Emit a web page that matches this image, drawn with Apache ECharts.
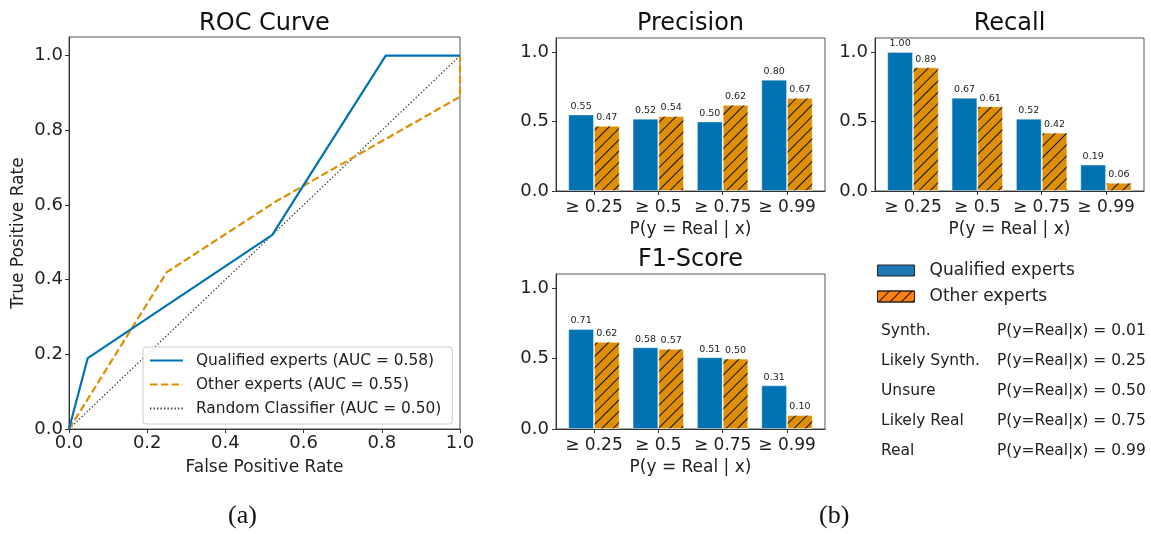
<!DOCTYPE html>
<html>
<head>
<meta charset="utf-8">
<script src="https://cdn.jsdelivr.net/npm/echarts@6/dist/echarts.min.js"></script>
<style>
html,body{margin:0;padding:0;background:#fff;}
#chart{width:1151px;height:534px;}
</style>
</head>
<body>
<div id="chart"></div>
<script>
// ---------- DATA ----------
const qualFpr  = [0, 0.048, 0.52, 0.61, 0.81, 1.0];
const qualTpr  = [0, 0.19, 0.52, 0.67, 1.0, 1.0];
const otherFpr = [0, 0.036, 0.25, 0.53, 1.0, 1.0];
const otherTpr = [0, 0.06, 0.42, 0.61, 0.89, 1.0];
const randFpr  = [0, 1];
const randTpr  = [0, 1];
const rocNames = ['Qualified experts (AUC = 0.58)', 'Other experts (AUC = 0.55)', 'Random Classifier (AUC = 0.50)'];
const rocTicks = [0, 0.2, 0.4, 0.6, 0.8, 1.0];

const categories = ['≥ 0.25', '≥ 0.5', '≥ 0.75', '≥ 0.99'];
const precQual  = [0.55, 0.52, 0.50, 0.80];
const precOther = [0.47, 0.54, 0.62, 0.67];
const recQual   = [1.00, 0.67, 0.52, 0.19];
const recOther  = [0.89, 0.61, 0.42, 0.06];
const f1Qual    = [0.71, 0.58, 0.51, 0.31];
const f1Other   = [0.62, 0.57, 0.50, 0.10];
const barTicks  = [0, 0.5, 1.0];
const groupNames = ['Qualified experts', 'Other experts'];

const tableLabels = ['Synth.', 'Likely Synth.', 'Unsure', 'Likely Real', 'Real'];
const tableProbs  = ['0.01', '0.25', '0.50', '0.75', '0.99'];

// ---------- STYLE ----------
const FONT = 'DejaVu Sans';
const BLUE = '#0173b2', ORANGE = '#de8f05';
const hatch = {symbol: 'rect', symbolSize: 1, dashArrayX: [1, 0], dashArrayY: [1, 7], rotation: -Math.PI / 4, color: '#111'};

const chart = echarts.init(document.getElementById('chart'), null, {renderer: 'canvas'});

const panels = [
  {title: 'Precision', q: precQual, o: precOther, left: 556, top: 38, width: 269, height: 153},
  {title: 'Recall',    q: recQual,  o: recOther,  left: 875, top: 38, width: 269, height: 153},
  {title: 'F1-Score',  q: f1Qual,   o: f1Other,   left: 556, top: 274, width: 269, height: 155}
];
const XMIN = -0.59, XMAX = 3.59;

const grids = [{left: 69, top: 37, width: 391, height: 392, show: true, borderColor: '#555', borderWidth: 1}];
const xAxes = [{
  gridIndex: 0, type: 'value', min: 0, max: 1, interval: 0.2,
  axisLine: {onZero: false, lineStyle: {color: '#333'}},
  axisTick: {length: 4, lineStyle: {color: '#333'}},
  axisLabel: {fontFamily: FONT, fontSize: 18, color: '#222', margin: 5, formatter: v => v.toFixed(1)},
  splitLine: {show: false},
  name: 'False Positive Rate', nameLocation: 'middle', nameGap: 30,
  nameTextStyle: {fontFamily: FONT, fontSize: 17, color: '#222'}
}];
const yAxes = [{
  gridIndex: 0, type: 'value', min: 0, max: 1.05,
  axisLine: {onZero: false, lineStyle: {color: '#333'}},
  axisTick: {length: 4, customValues: rocTicks, lineStyle: {color: '#333'}},
  axisLabel: {fontFamily: FONT, fontSize: 18, color: '#222', margin: 6, customValues: rocTicks, formatter: v => v.toFixed(1)},
  splitLine: {show: false},
  name: 'True Positive Rate', nameLocation: 'middle', nameGap: 42,
  nameTextStyle: {fontFamily: FONT, fontSize: 17, color: '#222'}
}];

const zip = (a, b) => a.map((v, i) => [v, b[i]]);
const series = [
  {type: 'line', name: rocNames[0], xAxisIndex: 0, yAxisIndex: 0, data: zip(qualFpr, qualTpr), symbol: 'none',
   lineStyle: {color: BLUE, width: 2.2}, itemStyle: {color: BLUE}, z: 4},
  {type: 'line', name: rocNames[1], xAxisIndex: 0, yAxisIndex: 0, data: zip(otherFpr, otherTpr), symbol: 'none',
   lineStyle: {color: ORANGE, width: 2.2, type: [7.5, 3.3]}, itemStyle: {color: ORANGE}, z: 3},
  {type: 'line', name: rocNames[2], xAxisIndex: 0, yAxisIndex: 0, data: zip(randFpr, randTpr), symbol: 'none',
   lineStyle: {color: '#333', width: 1.3, type: [1.3, 2.2]}, itemStyle: {color: '#333'}, z: 2}
];

const titles = [{text: 'ROC Curve', left: 264.5, top: 12, textAlign: 'center', padding: 0,
  textStyle: {fontFamily: FONT, fontSize: 24, fontWeight: 'normal', color: '#111'}}];

panels.forEach((p, k) => {
  const gi = k + 1;
  grids.push({left: p.left, top: p.top, width: p.width, height: p.height, show: true, borderColor: '#555', borderWidth: 1});
  titles.push({text: p.title, left: p.left + p.width / 2, top: p.top - 26, textAlign: 'center', padding: 0,
    textStyle: {fontFamily: FONT, fontSize: 24, fontWeight: 'normal', color: '#111'}});
  const idx = categories.map((c, i) => i);
  xAxes.push({
    gridIndex: gi, type: 'value', min: XMIN, max: XMAX,
    axisLine: {onZero: false, lineStyle: {color: '#333'}},
    axisTick: {length: 4, customValues: idx, lineStyle: {color: '#333'}},
    axisLabel: {fontFamily: FONT, fontSize: 17, color: '#222', margin: 8, customValues: idx,
      formatter: v => categories[Math.round(v)] || ''},
    splitLine: {show: false},
    name: 'P(y = Real | x)', nameLocation: 'middle', nameGap: 30,
    nameTextStyle: {fontFamily: FONT, fontSize: 17, color: '#222'}
  });
  yAxes.push({
    gridIndex: gi, type: 'value', min: 0, max: 1.1,
    axisLine: {onZero: false, lineStyle: {color: '#333'}},
    axisTick: {length: 4, customValues: barTicks, lineStyle: {color: '#333'}},
    axisLabel: {fontFamily: FONT, fontSize: 18, color: '#222', margin: 7, customValues: barTicks, formatter: v => v.toFixed(1)},
    splitLine: {show: false}
  });
  const lbl = {show: true, position: 'top', distance: 3, fontFamily: FONT, fontSize: 9.5, color: '#222',
    formatter: d => d.value[1].toFixed(2)};
  series.push({type: 'bar', name: groupNames[0], xAxisIndex: gi, yAxisIndex: gi,
    data: idx.map(i => [i, p.q[i]]), barWidth: '40%', barGap: '0%',
    itemStyle: {color: BLUE, borderColor: 'rgba(255,255,255,0.35)', borderWidth: 1}, label: lbl});
  series.push({type: 'bar', name: groupNames[1], xAxisIndex: gi, yAxisIndex: gi,
    data: idx.map(i => [i, p.o[i]]), barWidth: '40%', barGap: '0%',
    itemStyle: {color: ORANGE, borderColor: 'rgba(255,255,255,0.35)', borderWidth: 1, decal: hatch}, label: lbl});
});

const graphics = [];
tableLabels.forEach((t, i) => {
  graphics.push({type: 'text', left: 881, top: 323 + i * 30, style: {text: t, font: '15.5px "DejaVu Sans"', fill: '#222'}});
  graphics.push({type: 'text', left: 997, top: 323 + i * 30, style: {text: 'P(y=Real|x) = ' + tableProbs[i], font: '15.5px "DejaVu Sans"', fill: '#222'}});
});
graphics.push({type: 'text', left: 228, top: 503, style: {text: '(a)', font: '26px "Liberation Serif"', fill: '#111'}});
graphics.push({type: 'text', left: 819, top: 503, style: {text: '(b)', font: '26px "Liberation Serif"', fill: '#111'}});

const option = {
  backgroundColor: '#fff',
  animation: false,
  title: titles,
  grid: grids,
  xAxis: xAxes,
  yAxis: yAxes,
  legend: [
    {data: rocNames, left: 143, top: 347, orient: 'vertical', itemWidth: 33, itemHeight: 14, itemGap: 9,
     borderColor: '#ccc', borderWidth: 1, borderRadius: 3, backgroundColor: 'rgba(255,255,255,0.85)',
     padding: [6, 11, 8, 6], selectedMode: false,
     itemStyle: {opacity: 0},
     textStyle: {fontFamily: FONT, fontSize: 15.4, color: '#222', padding: [0, 0, 0, 8], lineHeight: 14}},
    {data: [
       {name: groupNames[0], itemStyle: {color: '#1f77b4', borderColor: '#222', borderWidth: 1}},
       {name: groupNames[1], itemStyle: {color: '#ff7f0e', borderColor: '#222', borderWidth: 1, decal: hatch}}
     ],
     icon: 'rect', left: 877, top: 262, orient: 'vertical', itemWidth: 37, itemHeight: 11, itemGap: 9,
     padding: 0, selectedMode: false,
     textStyle: {fontFamily: FONT, fontSize: 17, color: '#222', padding: [0, 0, 0, 10], lineHeight: 17}}
  ],
  graphic: graphics,
  series: series
};
chart.setOption(option);
</script>
</body>
</html>
